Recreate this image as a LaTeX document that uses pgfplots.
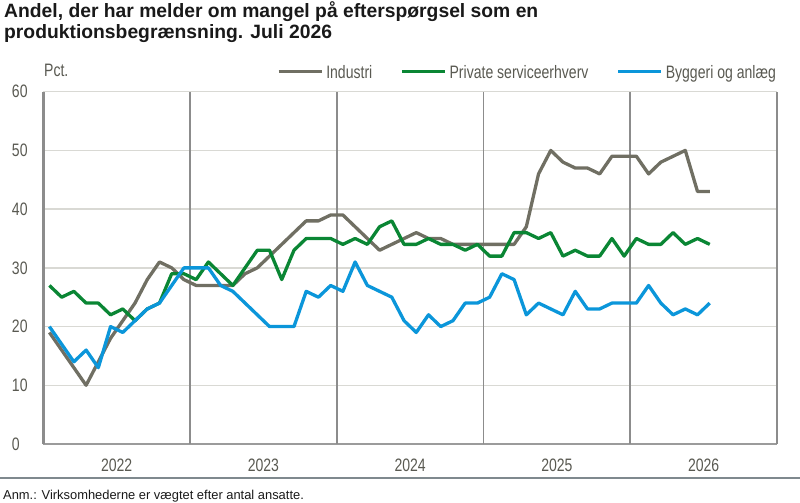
\documentclass[border=0pt]{standalone}
\usepackage{fontspec}
\setmainfont{Liberation Sans}
\newfontfamily\narrowfont[FakeStretch=0.78]{Liberation Sans}
\usepackage{pgfplots}
\usepackage{pgfplotstable}
\pgfplotsset{compat=1.18}
\definecolor{indgray}{HTML}{706F63}
\definecolor{privgreen}{HTML}{0A8634}
\definecolor{byggblue}{HTML}{0B96DA}
\definecolor{txtgray}{HTML}{595951}
\definecolor{gridgray}{HTML}{D9D9D4}
\definecolor{sepgray}{HTML}{8C8C8C}
\definecolor{botgray}{HTML}{9B9B9B}
\definecolor{rulegray}{HTML}{7F898E}

% monthly values, Jan 2022 - Jul 2026
\pgfplotstableread{
ind prv byg
19 27 20
16 25 17
13 26 14
10 24 16
14 24 13
18 22 20
21 23 19
24 21 21
28 23 23
31 24 24
30 29 27
28 29 30
27 28 30
27 31 30
27 29 27
27 27 26
29 30 24
30 33 22
32 33 20
34 28 20
36 33 20
38 35 26
38 35 25
39 35 27
39 34 26
37 35 31
35 34 27
33 37 26
34 38 25
35 34 21
36 34 19
35 35 22
35 34 20
34 34 21
34 33 24
34 34 24
34 32 25
34 32 29
34 36 28
37 36 22
46 35 24
50 36 23
48 32 22
47 33 26
47 32 23
46 32 23
49 35 24
49 32 24
49 35 24
46 34 27
48 34 24
49 36 22
50 34 23
43 35 22
43 34 24
}\datatable

\begin{document}
\begin{tikzpicture}
\useasboundingbox (0,0) rectangle (800bp,503bp);
\begin{axis}[
  at={(43.3bp,59bp)}, anchor=south west,
  scale only axis, width=733.7bp, height=352.3bp,
  xmin=0, xmax=60, ymin=0, ymax=60,
  axis x line*=bottom, axis y line*=left,
  x axis line style={color=botgray, line width=1.5bp, -},
  y axis line style={color=sepgray, line width=2.4bp, -},
  xtick={6,18,30,42,54},
  xticklabels={2022,2023,2024,2025,2026},
  ytick={0,10,...,60},
  major tick length=0pt,
  ymajorgrids, major grid style={color=gridgray, line width=1.5bp},
  extra x ticks={12,24,36,48,60}, extra x tick labels={},
  extra x tick style={grid=major, major grid style={color=sepgray, line width=1.7bp}},
  /pgf/number format/assume math mode=true,
  ticklabel style={font=\narrowfont\fontsize{18bp}{20bp}\selectfont, text=txtgray},
  yticklabel style={anchor=west, inner sep=0pt, xshift=-31.5bp},
  xticklabel style={anchor=north, inner sep=0pt, yshift=-14.3bp},
  legend columns=3,
  legend style={at={(axis description cs:0.3185,1.0573)}, anchor=west, draw=none, fill=none,
    inner sep=0pt, outer sep=0pt,
    font=\narrowfont\fontsize{18bp}{20bp}\selectfont, text=txtgray,
    nodes={inner sep=0pt, text depth=0pt},
    /tikz/every odd column/.append style={column sep=3bp},
    /tikz/every even column/.append style={column sep=28bp}},
  legend image code/.code={\draw[#1, line width=3.3bp] (0bp,0bp) -- (43bp,0bp);},
  every axis plot/.append style={line width=3.3bp, line join=round},
]
\addplot[indgray] table[x expr=\coordindex+0.5, y=ind] {\datatable};
\addlegendentry{Industri}
\addplot[privgreen] table[x expr=\coordindex+0.5, y=prv] {\datatable};
\addlegendentry{Private serviceerhverv}
\addplot[byggblue] table[x expr=\coordindex+0.5, y=byg] {\datatable};
\addlegendentry{Byggeri og anlæg}
\end{axis}
\node[anchor=base west, inner sep=0pt, font=\bfseries\fontsize{19.3bp}{22bp}\selectfont, text=black!90]
  at (4bp,485bp) {Andel, der har melder om mangel på efterspørgsel som en};
\node[anchor=base west, inner sep=0pt, font=\bfseries\fontsize{19.3bp}{22bp}\selectfont, text=black!90]
  at (4bp,464bp) {produktionsbegrænsning. Juli 2026};
\node[anchor=base west, inner sep=0pt, font=\narrowfont\fontsize{18bp}{20bp}\selectfont, text=txtgray]
  at (44bp,426bp) {Pct.};
\draw[color=rulegray, line width=1.3bp] (0bp,25bp) -- (800bp,25bp);
\node[anchor=base west, inner sep=0pt, font=\fontsize{12.9bp}{15bp}\selectfont, text=black!90]
  at (3bp,3.5bp) {Anm.: Virksomhederne er vægtet efter antal ansatte.};
\end{tikzpicture}
\end{document}
